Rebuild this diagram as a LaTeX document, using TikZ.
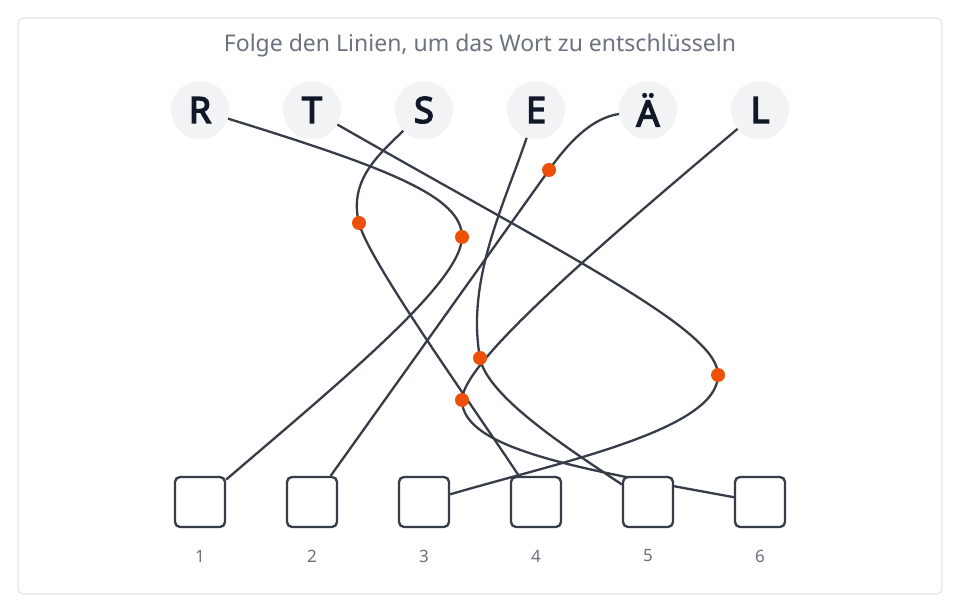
\documentclass[tikz,border=0pt]{standalone}
\usepackage{fontspec}
\setmainfont{Noto Sans}[AutoFakeBold=4]
\usetikzlibrary{calc}
\definecolor{wirec}{HTML}{363C48}
\definecolor{inkc}{HTML}{111827}
\definecolor{circc}{HTML}{F1F3F5}
\definecolor{greyc}{HTML}{6B7280}
\definecolor{framec}{HTML}{E3E5E8}
\definecolor{dotc}{RGB}{238,80,8}
\pgfdeclarelayer{back}
\pgfdeclarelayer{bg}
\pgfsetlayers{back,bg,main}
\begin{document}
\begin{tikzpicture}[x=1pt,y=-1pt,
  letter/.style={circle,fill=circc,minimum size=58pt,inner sep=0pt,text=inkc,
    font=\bfseries\fontsize{36}{36}\selectfont},
  box/.style={draw=wirec,line width=2.3pt,rounded corners=5pt,fill=white,
    minimum width=50pt,minimum height=50pt,inner sep=0pt},
  num/.style={text=greyc,font=\fontsize{17}{17}\selectfont},
  wire/.style={draw=wirec,line width=2.3pt},
  dotn/.style={circle,fill=dotc,minimum size=14pt,inner sep=0pt},
  title/.style={text=greyc,font=\fontsize{23}{23}\selectfont}]
\useasboundingbox (0,0) rectangle (960,612);
\begin{pgfonlayer}{back}
\draw[framec,line width=1.2pt,rounded corners=6pt,fill=white] (18,18) rectangle (942,594);
\end{pgfonlayer}
\node[title] (title) at (480,46) {Folge den Linien, um das Wort zu entschlüsseln};
% letters
\node[letter] (R) at (200,110) {R};
\node[letter] (T) at (312,110) {T};
\node[letter] (S) at (424,110) {S};
\node[letter] (E) at (536,110) {E};
\node[letter] (AE) at (648,110) {Ä};
\node[letter] (L) at (760,110) {L};
% boxes
\foreach \i/\x in {1/200,2/312,3/424,4/536,5/648,6/760}{
  \node[box] (b\i) at (\x,502) {};
  \node[num] (n\i) at (\x,556) {\i};
}
% waypoints
\coordinate (wR) at (462,237);
\coordinate (wT) at (718,375);
\coordinate (wS) at (359,223);
\coordinate (wA) at (549,170);
\coordinate (wE) at (480,358);
\coordinate (wL) at (462,400);
\begin{pgfonlayer}{bg}
\draw[wire] (R) .. controls (391,169) and (462,197) .. (wR) .. controls (462,282) and (340,382) .. (b1);
\draw[wire] (T) .. controls (572,259) and (718,330) .. (wT) .. controls (718,430) and (560,462) .. (b3);
\draw[wire] (S) .. controls (381,153) and (348,179) .. (wS) .. controls (369,262) and (475,409) .. (b4);
\draw[wire] (AE) .. controls (590,118) and (566,146) .. (wA) -- (b2);
\draw[wire] (E) .. controls (504,205) and (466,280) .. (wE) .. controls (487,397) and (572,451) .. (b5);
\draw[wire] (L) .. controls (584,258) and (462,365) .. (wL) .. controls (462,450) and (586,470) .. (b6);
\end{pgfonlayer}
% dots
\foreach \w in {wR,wT,wS,wA,wE,wL}{
  \node[dotn] (d\w) at (\w) {};
}
\end{tikzpicture}
\end{document}
